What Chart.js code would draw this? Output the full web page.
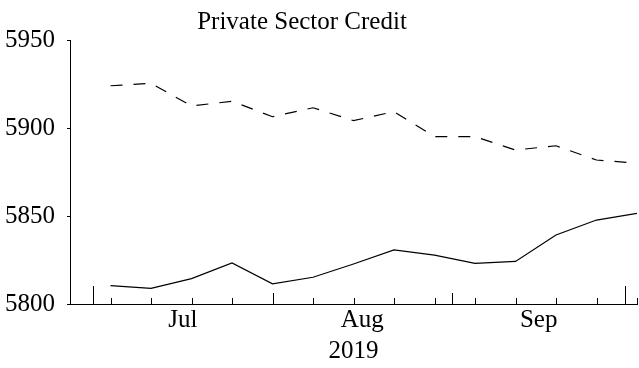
<!DOCTYPE html>
<html>
<head>
<meta charset="utf-8">
<script src="https://cdn.jsdelivr.net/npm/chart.js@4.4.1/dist/chart.umd.min.js"></script>
<style>
  html, body { margin: 0; padding: 0; background: #fff; }
  #wrap { width: 639px; height: 368px; }
</style>
</head>
<body>
<div id="wrap"><canvas id="creditChart"></canvas></div>
<script>
// weekly observations, 2019
const weekDates = [
  "2019-07-04", "2019-07-11", "2019-07-18", "2019-07-25",
  "2019-08-01", "2019-08-08", "2019-08-15", "2019-08-22", "2019-08-29",
  "2019-09-05", "2019-09-12", "2019-09-19", "2019-09-26", "2019-10-03",
];
const upperSeries = [
  5924.0, 5925.4, 5912.5, 5915.2, 5906.4, 5911.5, 5904.2,
  5909.3, 5895.1, 5895.1, 5887.5, 5889.9, 5881.8, 5880.0,
];
const lowerSeries = [
  5810.4, 5808.9, 5814.4, 5823.3, 5811.5, 5815.2, 5822.7,
  5830.7, 5827.8, 5823.1, 5824.2, 5839.2, 5847.7, 5851.5,
];
const monthLabels = ["Jul", "Aug", "Sep"];
const monthMids = ["2019-07-16T12:00", "2019-08-16T12:00", "2019-09-16"];
const monthStarts = ["2019-08-01", "2019-09-01"];
const quarterStarts = ["2019-07-01", "2019-10-01"];
const yTicks = [5800, 5850, 5900, 5950];
const xRange = ["2019-06-27", "2019-10-03"];
const yearLabel = "2019";
const chartTitle = "Private Sector Credit";

// days counted from 1 July 2019
const origin = Date.UTC(2019, 6, 1);
const toDay = (s) => (Date.parse(s + (s.length === 10 ? "T00:00Z" : "Z")) - origin) / 86400000;

const serif = "'Liberation Serif', 'Times New Roman', serif";
const fontSize = 25;

const tickMarks = {
  id: "tickMarks",
  afterDatasetsDraw(chart) {
    const { ctx, chartArea, scales } = chart;
    const x = scales.x;
    const draw = (days, len) => {
      days.forEach((d) => {
        const px = Math.round(x.getPixelForValue(d)) + 0.5;
        ctx.beginPath();
        ctx.moveTo(px, chartArea.bottom);
        ctx.lineTo(px, chartArea.bottom - len);
        ctx.stroke();
      });
    };
    ctx.save();
    ctx.strokeStyle = "#000";
    ctx.lineWidth = 1;
    draw(weekDates.map(toDay), 6);
    draw(monthStarts.map(toDay), 11);
    draw(quarterStarts.map(toDay), 18);
    ctx.restore();
  },
};

const titleText = {
  id: "titleText",
  afterDraw(chart) {
    const { ctx } = chart;
    ctx.save();
    ctx.fillStyle = "#000";
    ctx.font = fontSize + "px " + serif;
    ctx.textAlign = "center";
    ctx.textBaseline = "alphabetic";
    ctx.fillText(chartTitle, 302, 29);
    ctx.restore();
  },
};

const toPoints = (vals) => vals.map((v, i) => ({ x: toDay(weekDates[i]), y: v }));

new Chart(document.getElementById("creditChart"), {
  type: "line",
  data: {
    datasets: [
      {
        data: toPoints(upperSeries),
        borderColor: "#000",
        borderWidth: 1.2,
        borderDash: [12, 11],
        pointRadius: 0,
        tension: 0,
      },
      {
        data: toPoints(lowerSeries),
        borderColor: "#000",
        borderWidth: 1.2,
        pointRadius: 0,
        tension: 0,
      },
    ],
  },
  options: {
    responsive: true,
    maintainAspectRatio: false,
    animation: false,
    layout: { padding: { top: 40, right: 2, left: 0, bottom: 4 } },
    plugins: {
      legend: { display: false },
      tooltip: { enabled: false },
      title: { display: false },
    },
    scales: {
      x: {
        type: "linear",
        min: toDay(xRange[0]),
        max: toDay(xRange[1]),
        afterBuildTicks: (scale) => {
          scale.ticks = monthMids.map((m) => ({ value: toDay(m) }));
        },
        afterFit: (scale) => { scale.height = 60; },
        ticks: {
          autoSkip: false,
          maxRotation: 0,
          padding: 4,
          color: "#000",
          font: { family: serif, size: fontSize, lineHeight: 1.0 },
          callback: (v, i) => monthLabels[i],
        },
        grid: { display: false, drawTicks: false },
        border: { display: true, color: "#000", width: 1 },
        title: {
          display: true,
          text: yearLabel,
          color: "#000",
          font: { family: serif, size: fontSize, lineHeight: 1.0 },
          padding: { top: 0, bottom: 0 },
        },
      },
      y: {
        min: yTicks[0],
        max: yTicks[yTicks.length - 1],
        afterBuildTicks: (scale) => {
          scale.ticks = yTicks.map((v) => ({ value: v }));
        },
        afterFit: (scale) => { scale.width = 70; },
        ticks: {
          padding: 12,
          color: "#000",
          font: { family: serif, size: fontSize },
          callback: (v) => String(v),
        },
        grid: { drawOnChartArea: false, tickLength: 3, color: "#000" },
        border: { display: true, color: "#000", width: 1 },
      },
    },
  },
  plugins: [tickMarks, titleText],
});
</script>
</body>
</html>
